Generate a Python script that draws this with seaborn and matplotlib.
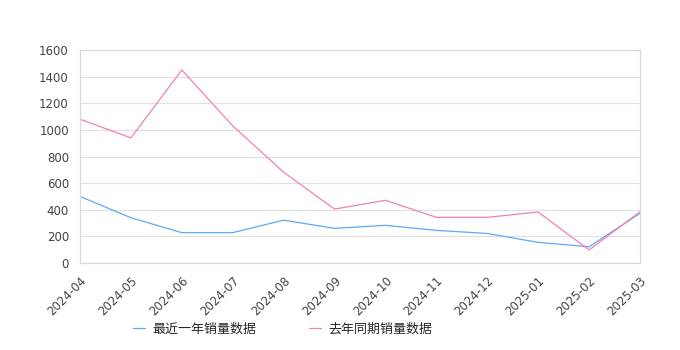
import matplotlib
matplotlib.use("Agg")
import matplotlib.pyplot as plt
import seaborn as sns
import pandas as pd

# monthly sales
months = ["2024-04", "2024-05", "2024-06", "2024-07", "2024-08", "2024-09",
          "2024-10", "2024-11", "2024-12", "2025-01", "2025-02", "2025-03"]
recent_year = [500, 340, 228, 228, 322, 260, 283, 245, 222, 155, 122, 373]
last_year = [1080, 940, 1450, 1030, 682, 405, 471, 343, 343, 383, 98, 385]
series_names = ["最近一年销量数据", "去年同期销量数据"]
y_ticks = [0, 200, 400, 600, 800, 1000, 1200, 1400, 1600]

df = pd.DataFrame({
    "month": months * 2,
    "sales": recent_year + last_year,
    "series": [series_names[0]] * len(months) + [series_names[1]] * len(months),
})

sns.set_style("white")
plt.rcParams["font.family"] = ["DejaVu Sans", "Noto Sans CJK SC"]

fig = plt.figure(figsize=(6.8, 3.5), dpi=100)
ax = fig.add_axes([80 / 680, 1 - 263 / 350, 560 / 680, 213 / 350])

palette = {series_names[0]: "#5fa8f6", series_names[1]: "#f27fb6"}
sns.lineplot(data=df, x="month", y="sales", hue="series", palette=palette,
             linewidth=0.9, sort=False, ax=ax)

ax.set_xlim(0, len(months) - 1)
ax.set_ylim(0, 1600)
ax.set_yticks(y_ticks)
ax.set_yticklabels([str(v) for v in y_ticks], fontsize=8.5, color="#444444")
ax.set_xticks(range(len(months)))
ax.set_xticklabels(months, rotation=45, ha="right", rotation_mode="anchor",
                   fontsize=8.5, color="#444444")
ax.tick_params(axis="y", length=0, pad=8)
ax.tick_params(axis="x", length=4, color="#cccccc", pad=4)
ax.grid(axis="y", color="#e0e0e0", linewidth=0.8)
ax.set_axisbelow(True)
for s in ax.spines.values():
    s.set_color("#d9d9d9")
    s.set_linewidth(0.9)
ax.set_xlabel("")
ax.set_ylabel("")

handles, labels = ax.get_legend_handles_labels()
ax.legend(handles, labels, loc="upper center", bbox_to_anchor=(0.362, -0.225),
          ncol=2, frameon=False, handlelength=0.9,
          columnspacing=4.0, handletextpad=0.6,
          prop={"family": ["Noto Sans CJK SC", "DejaVu Sans"], "size": 9.4})

fig.savefig("out.png", dpi=100)
